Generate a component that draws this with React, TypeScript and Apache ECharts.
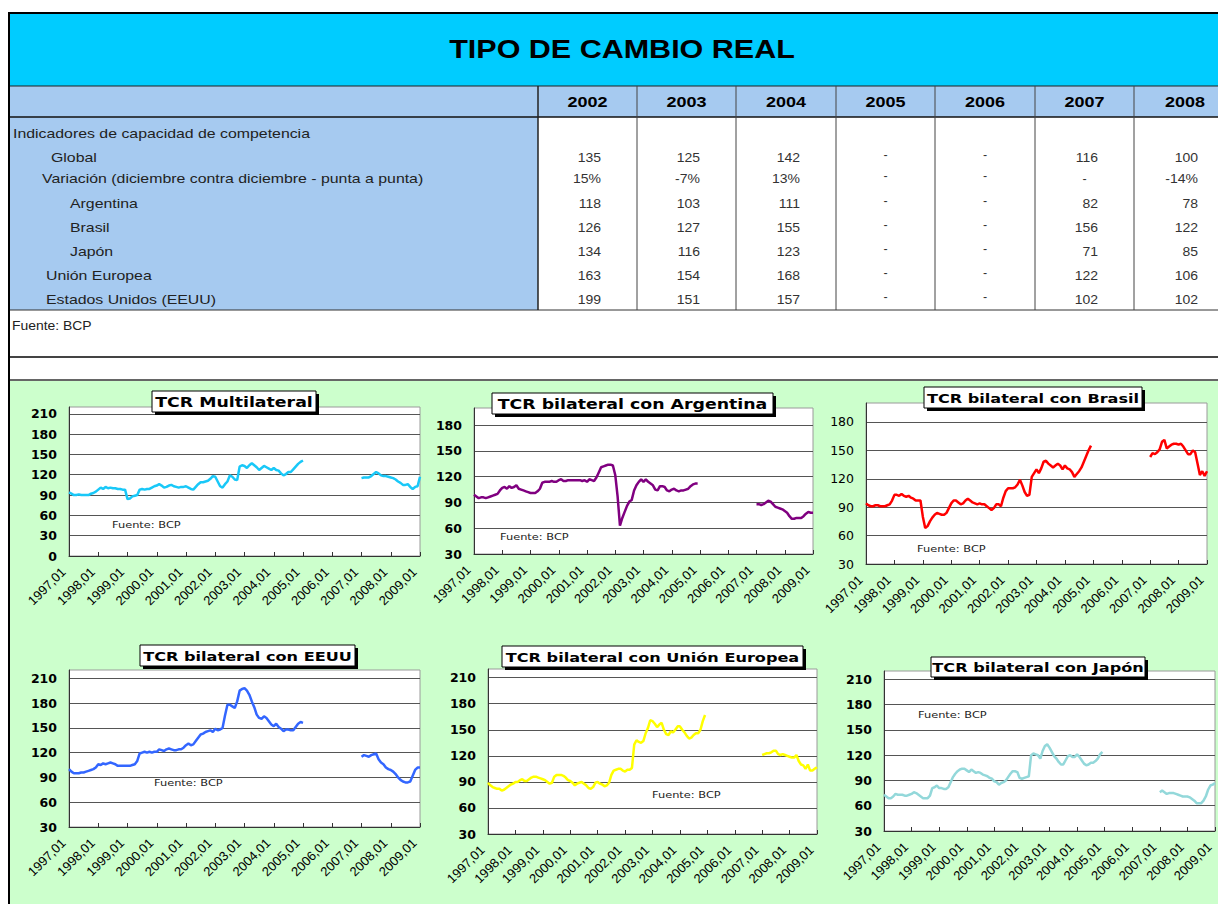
import React, { useEffect, useRef } from "react";
import * as echarts from "echarts";

const W = 1218;
const H = 904;

// ---------- table data ----------
const tableTitle = "TIPO DE CAMBIO REAL";
const tableYears = ["2002", "2003", "2004", "2005", "2006", "2007", "2008"];
const tableGroupLabel = "Indicadores de capacidad de competencia";
const rowLabels = [
  "Global",
  "Variación (diciembre contra diciembre - punta a punta)",
  "Argentina",
  "Brasil",
  "Japón",
  "Unión Europea",
  "Estados Unidos (EEUU)",
];
const rowGlobal = ["135", "125", "142", "-", "-", "116", "100"];
const rowVariacion = ["15%", "-7%", "13%", "-", "-", "-", "-14%"];
const rowArgentina = ["118", "103", "111", "-", "-", "82", "78"];
const rowBrasil = ["126", "127", "155", "-", "-", "156", "122"];
const rowJapon = ["134", "116", "123", "-", "-", "71", "85"];
const rowUE = ["163", "154", "168", "-", "-", "122", "106"];
const rowEEUU = ["199", "151", "157", "-", "-", "102", "102"];
const tableRows = [rowGlobal, rowVariacion, rowArgentina, rowBrasil, rowJapon, rowUE, rowEEUU];
const tableSource = "Fuente: BCP";

// ---------- chart data (monthly, 1997,01 .. / 2007,01 .. 2009,01) ----------
const multiA = [94,92,90,90,91,90,90,90,90,92, 93,95,98,101,99,102,100,101,100,100, 99,99,98,98,84,85,88,89,90,98, 99,98,99,99,101,103,104,106,104,101, 102,104,105,103,102,101,102,102,103,101, 99,98,102,106,109,109,110,111,114,118, 117,110,103,101,106,110,119,117,113,112, 132,134,133,130,134,137,134,131,127,130, 133,131,129,127,130,127,126,122,119,121, 124,124,128,132,136,139,141];
const multiB = [115,116,116,116,118,121,124,122,119,118,118,117,116,115,113,110,108,105,105,106,102,99,102,103,117];

const argA = [99,97,95,96,96,95,96,97,98,99, 100,104,107,108,106,109,107,108,110,106, 105,104,103,102,101,101,101,103,106,113, 114,114,114,115,114,114,116,117,115,115, 116,116,116,116,116,116,115,116,114,117, 116,115,119,125,131,132,133,134,134,133, 122,97,63,72,79,86,91,93,104,110, 114,117,114,117,114,112,110,105,104,109, 109,108,104,103,105,106,104,103,104,104, 105,106,109,111,112,112];
const argB = [88,88,87,88,90,92,91,88,85,84,83,82,80,78,74,71,71,72,72,72,74,77,79,78,78];

const braA = [94,92,91,91,92,92,91,91,91,92, 93,97,103,103,102,104,102,101,102,100, 99,97,97,97,80,68,70,75,79,82, 84,83,82,82,84,89,94,97,97,95, 93,94,97,99,97,95,94,93,94,93, 93,91,89,87,89,93,93,91,100,107, 110,110,110,111,114,119,113,106,102,103, 122,126,130,126,131,138,139,136,134,132, 134,136,134,130,134,131,130,127,122,125, 128,132,138,144,150,155];
const braB = [143,147,146,148,151,159,161,152,154,156,157,157,156,157,154,150,146,146,150,148,136,124,128,123,128];

const usaA = [100,97,95,95,95,96,96,97,98,99, 100,102,106,105,107,106,107,108,107,106, 104,104,104,104,104,104,105,106,110,119, 120,121,120,121,120,121,121,124,123,122, 124,125,124,123,123,124,124,126,129,131, 129,130,134,138,142,143,145,146,147,145, 149,147,148,150,165,178,178,176,174,182, 195,197,198,195,190,182,175,166,162,161, 164,162,158,154,152,155,151,149,146,148, 148,147,147,151,155,157,156];
const usaB = [115,117,116,115,117,118,119,112,108,106,102,100,99,97,94,90,87,85,84,84,85,92,99,102,102];

const ueA = [89,86,84,83,82,82,80,81,83,85, 87,88,90,90,92,93,91,91,93,95, 96,96,95,94,93,92,90,88,89,96, 98,98,98,97,95,92,91,89,86,88, 89,90,88,86,83,82,84,89,90,88, 87,85,86,89,98,103,104,105,105,103, 102,104,104,106,133,138,136,135,137,146, 152,161,160,157,153,156,158,150,145,144, 148,147,150,154,154,150,147,143,140,141, 144,146,146,150,160,167];
const ueB = [121,122,123,123,124,126,126,122,121,122,121,120,119,118,118,121,114,110,109,105,110,103,103,105,107];

const jpnA = [73,71,69,69,71,74,73,73,73,72, 72,73,74,76,75,73,71,69,69,69, 72,81,82,84,81,81,80,80,82,88, 94,98,101,103,104,104,102,100,103,101, 99,100,99,97,96,95,93,92,89,88, 85,87,88,90,94,98,101,101,100,93, 92,93,94,95,120,122,121,120,116,125, 131,133,129,124,119,116,112,109,109,114, 119,120,118,118,121,118,114,110,108,109, 111,111,113,116,121,124];
const jpnB = [76,78,76,74,75,75,75,74,73,72,71,71,71,70,68,66,63,63,63,66,71,79,84,85,87];

const chartTitles = [
  "TCR Multilateral",
  "TCR bilateral con Argentina",
  "TCR bilateral con Brasil",
  "TCR bilateral con EEUU",
  "TCR bilateral con Unión Europea",
  "TCR bilateral con Japón",
];
const chartSource = "Fuente: BCP";
const firstYear = 1997;
const lastYear = 2009;
const secondSegmentStart = 120; // index of 2007,01

// month category labels
const monthLabels: string[] = [];
for (let y = firstYear; y <= lastYear; y++) {
  for (let m = 1; m <= 12; m++) {
    if (y === lastYear && m > 1) break;
    monthLabels.push(`${y},${String(m).padStart(2, "0")}`);
  }
}

function buildSeries(a: number[], b: number[]) {
  const out: (number | null)[] = monthLabels.map(() => null);
  a.forEach((v, i) => (out[i] = v));
  b.forEach((v, i) => (out[secondSegmentStart + i] = v));
  return out;
}

// ---------- layout / style ----------
const chartCfg = [
  { a: multiA, b: multiB, color: "#19C8F8", min: 0, max: 220, grid: [69, 407, 351, 149], box: [152, 391, 164, 21], tsize: 14, src: [112, 524], bold: true },
  { a: argA, b: argB, color: "#800080", min: 30, max: 200, grid: [474, 408, 339, 146], box: [492, 393, 281, 21], tsize: 14, src: [500, 536], bold: true },
  { a: braA, b: braB, color: "#FF0000", min: 30, max: 200, grid: [866, 403, 341, 161], box: [924, 387, 218, 21], tsize: 13, src: [917, 548], bold: false },
  { a: usaA, b: usaB, color: "#3366FF", min: 30, max: 220, grid: [69, 670, 351, 157], box: [140, 645, 215, 21], tsize: 13, src: [154, 782], bold: true },
  { a: ueA, b: ueB, color: "#FFFF00", min: 30, max: 220, grid: [488, 669, 329, 165], box: [502, 646, 301, 21], tsize: 13, src: [652, 794], bold: true },
  { a: jpnA, b: jpnB, color: "#93D8DA", min: 30, max: 220, grid: [884, 671, 331, 160], box: [931, 657, 214, 20], tsize: 13, src: [918, 714], bold: true },
];

const colEdges = [538, 637, 736, 836, 935, 1035, 1134, 1234];
const rowY = [158, 179, 204, 228, 252, 276, 300];
const rowX = [51, 42, 70, 70, 70, 46, 46];

function rect(x: number, y: number, w: number, h: number, fill: string, z = 1): any {
  return { type: "rect", shape: { x, y, width: w, height: h }, style: { fill }, z, silent: true };
}
function line(x1: number, y1: number, x2: number, y2: number, stroke: string, lw: number, z = 6): any {
  return { type: "line", shape: { x1, y1, x2, y2 }, style: { stroke, lineWidth: lw }, z, silent: true };
}
function text(x: number, y: number, t: string, o: any): any {
  return {
    type: "text",
    x,
    y,
    scaleX: o.scaleX ?? 1,
    z: o.z ?? 10,
    silent: true,
    style: {
      text: t,
      fill: o.fill ?? "#000",
      fontSize: o.size,
      fontWeight: o.weight ?? "normal",
      fontFamily: o.family ?? "Liberation Sans",
      align: o.align ?? "left",
      textAlign: o.align ?? "left",
      verticalAlign: "middle",
      textVerticalAlign: "middle",
    },
  };
}

function buildOption(): any {
  const g: any[] = [];
  // backgrounds
  g.push(rect(10, 381, 1208, 523, "#CCFFCC", -20));
  g.push(rect(10, 14, 1208, 72, "#00CCFF", -20));
  g.push(rect(10, 86, 1208, 31, "#A6CAF0", -20));
  g.push(rect(10, 117, 528, 193, "#A6CAF0", -20));
  // borders
  g.push(rect(8, 12, 1210, 2, "#000", 6));
  g.push(rect(8, 12, 2, 892, "#000", 6));
  g.push(line(10, 86, 1218, 86, "#222", 1));
  g.push(line(10, 117, 1218, 117, "#111", 1.5));
  g.push(line(10, 310, 1218, 310, "#333", 1));
  g.push(line(10, 357, 1218, 357, "#444", 2));
  g.push(line(10, 380, 1218, 380, "#333", 1.5));
  colEdges.slice(0, 7).forEach((x, i) => g.push(line(x, 86, x, 310, i === 0 ? "#222" : "#444", i === 0 ? 1.5 : 1)));

  // title
  g.push(text(622, 49, tableTitle, { size: 25, weight: "bold", align: "center", scaleX: 1.22 }));
  // year headers
  tableYears.forEach((yr, i) => {
    const cx = i < 6 ? (colEdges[i] + colEdges[i + 1]) / 2 : 1185;
    g.push(text(cx, 102, yr, { size: 15, weight: "bold", align: "center", scaleX: 1.2 }));
  });
  // labels
  g.push(text(13, 134, tableGroupLabel, { size: 12.5, scaleX: 1.27, fill: "#222" }));
  rowLabels.forEach((l, i) => g.push(text(rowX[i], rowY[i], l, { size: 12.5, scaleX: 1.27, fill: "#222" })));
  // values
  tableRows.forEach((row, r) => {
    row.forEach((v, c) => {
      const right = colEdges[c + 1] - 36;
      const cx = c < 6 ? (colEdges[c] + colEdges[c + 1]) / 2 : 1185;
      if (v === "-") {
        g.push(text(cx, rowY[r] - (c === 3 || c === 4 ? 3 : 0), v, { size: 12.5, align: "center", fill: "#333" }));
      } else {
        g.push(text(right, rowY[r], v, { size: 12.5, align: "right", scaleX: 1.12, fill: "#333" }));
      }
    });
  });
  g.push(text(12, 326, tableSource, { size: 12, scaleX: 1.16, fill: "#222" }));

  // chart titles and sources
  chartCfg.forEach((c, i) => {
    const [bx, by, bw, bh] = c.box;
    g.push({ ...rect(bx + 3, by + 3, bw, bh, "#000", 50) });
    g.push({ type: "rect", shape: { x: bx, y: by, width: bw, height: bh }, style: { fill: "#fff", stroke: "#000", lineWidth: 1 }, z: 51, silent: true });
    g.push(text(bx + bw / 2, by + bh / 2 + 0.5, chartTitles[i], { size: c.tsize, weight: "bold", family: "DejaVu Sans", align: "center", scaleX: 1.24, z: 52 }));
    g.push(text(c.src[0], c.src[1], chartSource, { size: 9.5, family: "DejaVu Sans", scaleX: 1.2, fill: "#222", z: 40 }));
  });

  const grid = chartCfg.map((c) => ({
    left: c.grid[0],
    top: c.grid[1],
    width: c.grid[2],
    height: c.grid[3],
    show: true,
    backgroundColor: "#fff",
    borderColor: "#9a9a9a",
    borderWidth: 1,
    containLabel: false,
    outerBoundsMode: "none",
  }));
  const xAxis = chartCfg.map((c, i) => ({
    type: "category",
    gridIndex: i,
    data: monthLabels,
    boundaryGap: false,
    axisLine: { show: true, lineStyle: { color: "#333", width: 1 } },
    axisTick: { show: true, interval: 11, inside: true, length: 4, lineStyle: { color: "#333" } },
    axisLabel: {
      interval: 11,
      rotate: 45,
      margin: 8,
      padding: [0, 8, 0, 0],
      fontFamily: "Liberation Sans",
      fontSize: 13,
      color: "#000",
    },
    splitLine: { show: false },
  }));
  const yAxis = chartCfg.map((c, i) => ({
    type: "value",
    gridIndex: i,
    min: c.min,
    max: c.max,
    interval: 30,
    axisLine: { show: true, lineStyle: { color: "#333", width: 1 } },
    axisTick: { show: false },
    splitLine: { show: true, showMaxLine: false, lineStyle: { color: "#555", width: 1 } },
    axisLabel: {
      margin: 12,
      fontFamily: "DejaVu Sans",
      fontSize: 12.5,
      fontWeight: c.bold ? "bold" : "normal",
      color: "#000",
      showMaxLabel: false,
      formatter: (v: number) => (v % 30 === 0 ? String(v) : ""),
    },
  }));
  const series = chartCfg.map((c, i) => ({
    type: "line",
    name: chartTitles[i],
    xAxisIndex: i,
    yAxisIndex: i,
    data: buildSeries(c.a, c.b),
    showSymbol: false,
    symbol: "none",
    connectNulls: false,
    lineStyle: { color: c.color, width: 2.5 },
    itemStyle: { color: c.color },
    z: 3,
  }));

  return { animation: false, backgroundColor: "#fff", grid, xAxis, yAxis, series, graphic: { elements: g } };
}

export default function App() {
  const ref = useRef<HTMLDivElement>(null);
  useEffect(() => {
    document.body.style.margin = "0";
    const chart = echarts.init(ref.current!, null, { renderer: "svg", width: W, height: H });
    chart.setOption(buildOption());
    return () => chart.dispose();
  }, []);
  return <div ref={ref} style={{ width: W, height: H }} />;
}
